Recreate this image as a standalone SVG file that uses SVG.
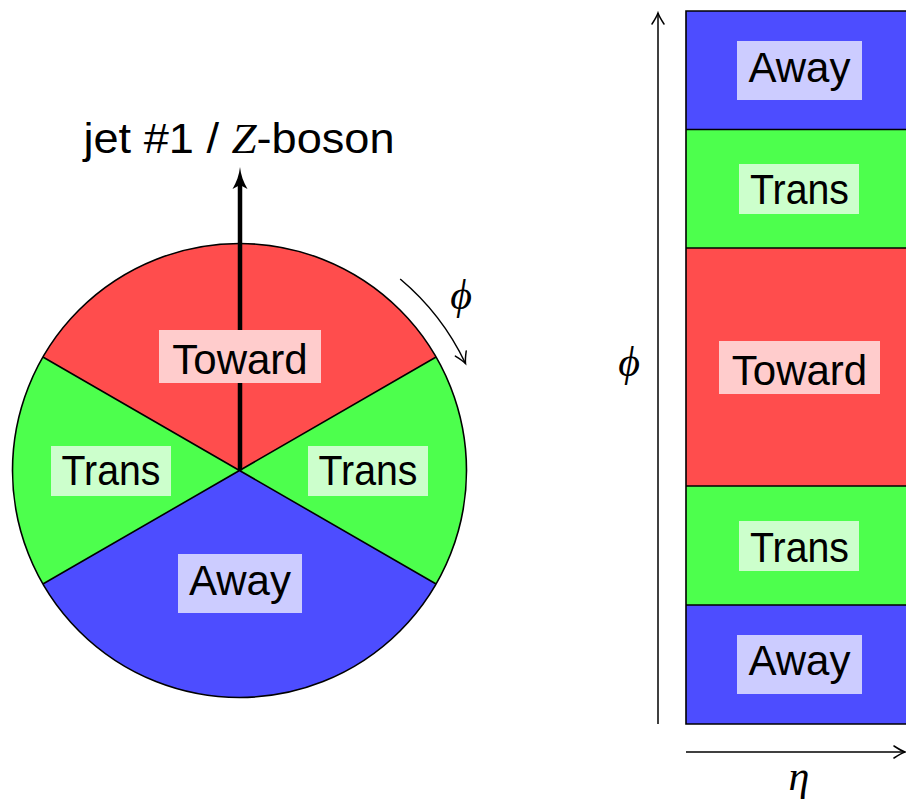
<svg xmlns="http://www.w3.org/2000/svg" width="906" height="804" viewBox="0 0 906 804">
<style>
.lbl{font-family:"Liberation Sans",Arial,sans-serif;font-size:42px;fill:#000;text-anchor:middle}
.math{font-family:"Liberation Serif","DejaVu Serif",serif;font-style:italic;font-size:42px;fill:#000;text-anchor:middle}
.edge{stroke:#000;stroke-width:1.6;fill:none}
.red{fill:#ff4d4d}.green{fill:#4dff4d}.blue{fill:#4d4dff}
.redL{fill:#ffcccc}.greenL{fill:#ccffcc}.blueL{fill:#ccccff}
.thin{stroke:#000;stroke-width:1.5;fill:none}
</style>
<defs>
<marker id="to" markerUnits="userSpaceOnUse" viewBox="-12 -7 14 14" refX="0" refY="0" markerWidth="14" markerHeight="14" orient="auto" overflow="visible">
<path d="M-11,-6 Q-3.8,-1.3 0,0 Q-3.8,1.3 -11,6" stroke="#000" stroke-width="1.5" fill="none" stroke-linecap="round"/>
</marker>
</defs>
<rect width="906" height="804" fill="#fff"/>

<g id="circle-diagram">
<g id="sector-toward"><path class="red" d="M239.5,470.5 L42.9,357 A227,227 0 0 1 436.1,357 Z"/></g>
<g id="sector-trans-right"><path class="green" d="M239.5,470.5 L436.1,357 A227,227 0 0 1 436.1,584 Z"/></g>
<g id="sector-away"><path class="blue" d="M239.5,470.5 L436.1,584 A227,227 0 0 1 42.9,584 Z"/></g>
<g id="sector-trans-left"><path class="green" d="M239.5,470.5 L42.9,584 A227,227 0 0 1 42.9,357 Z"/></g>
<path class="edge" d="M42.9,357 L239.5,470.5 L436.1,357 M42.9,584 L239.5,470.5 L436.1,584"/>
<circle class="edge" cx="239.5" cy="470.5" r="227" stroke-width="2"/>
</g>

<g id="connectors">
<line x1="240" y1="470.5" x2="240" y2="180" stroke="#000" stroke-width="4.5"/>
<path d="M240,167 C240.8,175 243.5,182 247.5,189 L240,185 L232.5,189 C236.5,182 239.2,175 240,167 Z" fill="#000"/>
<path class="thin" d="M400.2,279 A250,250 0 0 1 465.5,363.5" marker-end="url(#to)"/>
<line class="thin" x1="658" y1="724" x2="658" y2="13" marker-end="url(#to)"/>
<line class="thin" x1="686" y1="752" x2="905" y2="752" marker-end="url(#to)"/>
</g>

<g id="label-toward"><rect class="redL" x="159" y="330" width="162" height="53"/><text class="lbl" x="240" y="374">Toward</text></g>
<g id="label-trans-left"><rect class="greenL" x="51" y="446" width="120" height="50"/><text class="lbl" x="111" y="485" textLength="99" lengthAdjust="spacingAndGlyphs">Trans</text></g>
<g id="label-trans-right"><rect class="greenL" x="308" y="446" width="120" height="50"/><text class="lbl" x="368" y="485" textLength="99" lengthAdjust="spacingAndGlyphs">Trans</text></g>
<g id="label-away"><rect class="blueL" x="178" y="554" width="124" height="59"/><text class="lbl" x="240" y="595">Away</text></g>

<g id="title"><text class="lbl" x="239" y="153" textLength="311" lengthAdjust="spacingAndGlyphs">jet #1 / <tspan font-family="Liberation Serif" font-style="italic">Z</tspan>-boson</text></g>
<g id="phi-arc-label"><text class="math" x="461" y="309">ϕ</text></g>

<g id="strip-diagram">
<g id="band-away-top"><rect class="blue" x="686" y="11" width="240" height="118.5"/><rect class="blueL" x="737" y="41" width="125" height="59"/><text class="lbl" x="799.5" y="82">Away</text></g>
<g id="band-trans-top"><rect class="green" x="686" y="129.5" width="240" height="118.5"/><rect class="greenL" x="739" y="164" width="120" height="50"/><text class="lbl" x="799.5" y="204" textLength="99" lengthAdjust="spacingAndGlyphs">Trans</text></g>
<g id="band-toward"><rect class="red" x="686" y="248" width="240" height="238"/><rect class="redL" x="719" y="341" width="161" height="53"/><text class="lbl" x="799.5" y="385">Toward</text></g>
<g id="band-trans-bottom"><rect class="green" x="686" y="486" width="240" height="119"/><rect class="greenL" x="739" y="521" width="120" height="50"/><text class="lbl" x="799.5" y="562" textLength="99" lengthAdjust="spacingAndGlyphs">Trans</text></g>
<g id="band-away-bottom"><rect class="blue" x="686" y="605" width="240" height="119"/><rect class="blueL" x="737" y="635" width="125" height="59"/><text class="lbl" x="799.5" y="675">Away</text></g>
<path class="edge" d="M926,11 L686,11 L686,724 L926,724 M686,129.5 H926 M686,248 H926 M686,486 H926 M686,605 H926" stroke-width="2"/>
</g>

<g id="axis-labels">
<text class="math" x="629" y="376">ϕ</text>
<text class="math" x="799" y="790">η</text>
</g>
</svg>
